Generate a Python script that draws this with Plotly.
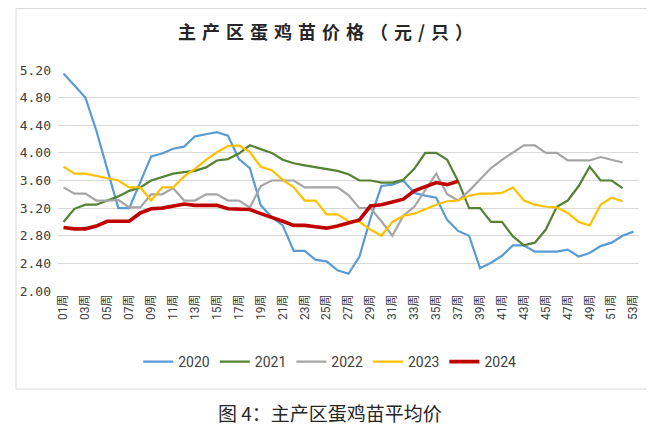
import plotly.graph_objects as go

weeks = [f"{i:02d}周" for i in range(1, 54)]

y2020 = [5.15, 4.98, 4.80, 4.32, 3.75, 3.20, 3.20, 3.57, 3.95, 3.99,
         4.06, 4.09, 4.24, 4.27, 4.30, 4.25, 3.91, 3.78, 3.24, 3.07,
         2.95, 2.58, 2.58, 2.45, 2.43, 2.30, 2.25, 2.50, 3.05, 3.52,
         3.54, 3.60, 3.42, 3.38, 3.35, 3.03, 2.87, 2.80, 2.33, 2.41,
         2.51, 2.66, 2.66, 2.57, 2.57, 2.57, 2.60, 2.50, 2.55, 2.65,
         2.70, 2.80, 2.86]
y2021 = [3.00, 3.19, 3.25, 3.25, 3.31, 3.37, 3.45, 3.50, 3.60, 3.65,
         3.70, 3.72, 3.74, 3.79, 3.89, 3.91, 3.99, 4.11, 4.06, 4.00,
         3.90, 3.85, 3.82, 3.79, 3.77, 3.74, 3.69, 3.60, 3.60, 3.57,
         3.57, 3.61, 3.77, 4.00, 4.00, 3.90, 3.59, 3.20, 3.20, 3.00,
         3.00, 2.79, 2.66, 2.70, 2.89, 3.22, 3.31, 3.52, 3.80, 3.60,
         3.60, 3.49]
y2022 = [3.50, 3.41, 3.41, 3.31, 3.31, 3.32, 3.21, 3.21, 3.40, 3.40,
         3.49, 3.31, 3.31, 3.40, 3.40, 3.31, 3.31, 3.21, 3.52, 3.60,
         3.60, 3.60, 3.50, 3.50, 3.50, 3.50, 3.39, 3.20, 3.20, 3.01,
         2.80, 3.09, 3.22, 3.47, 3.70, 3.40, 3.31, 3.45, 3.62, 3.78,
         3.90, 4.00, 4.11, 4.11, 4.00, 4.00, 3.89, 3.89, 3.89, 3.94,
         3.90, 3.86]
y2023 = [3.80, 3.70, 3.70, 3.67, 3.64, 3.60, 3.50, 3.50, 3.31, 3.50,
         3.50, 3.66, 3.77, 3.90, 4.01, 4.10, 4.11, 4.01, 3.80, 3.75,
         3.61, 3.50, 3.31, 3.31, 3.11, 3.11, 3.01, 3.00, 2.89, 2.80,
         3.00, 3.09, 3.12, 3.19, 3.25, 3.30, 3.31, 3.38, 3.41, 3.41,
         3.42, 3.50, 3.31, 3.25, 3.22, 3.21, 3.13, 3.00, 2.95, 3.25,
         3.35, 3.30]
y2024 = [2.92, 2.90, 2.90, 2.94, 3.01, 3.01, 3.01, 3.13, 3.19, 3.20,
         3.23, 3.26, 3.24, 3.24, 3.24, 3.19, 3.18, 3.18, 3.12, 3.07,
         3.01, 2.95, 2.95, 2.93, 2.91, 2.94, 2.98, 3.03, 3.23, 3.25,
         3.29, 3.33, 3.45, 3.51, 3.57, 3.54, 3.59]

series = [
    ("2020", y2020, "#5b9bd5", 2.2),
    ("2021", y2021, "#548235", 2.2),
    ("2022", y2022, "#a5a5a5", 2.2),
    ("2023", y2023, "#ffc000", 2.2),
    ("2024", y2024, "#c00000", 3.6),
]

yticks = [2.00, 2.40, 2.80, 3.20, 3.60, 4.00, 4.40, 4.80, 5.20]
ytick_text = [f"{v:.2f}" for v in yticks]
xtick_vals = weeks[::2]

title_text = "主产区蛋鸡苗价格（元/只）"
caption_text = "图 4：主产区蛋鸡苗平均价"

fig = go.Figure()
for name, vals, color, w in series:
    fig.add_trace(go.Scatter(
        x=weeks[:len(vals)], y=vals, name=name, mode="lines",
        line=dict(color=color, width=w),
    ))

L, R, T, B = 43, 24, 62, 144
W, H = 655, 427
pw, ph = W - L - R, H - T - B

def px(x):
    return (x - L) / pw

def py(y):
    return (H - B - y) / ph

fig.update_layout(
    width=W, height=H,
    margin=dict(l=L, r=R, t=T, b=B),
    paper_bgcolor="white", plot_bgcolor="white",
    font=dict(family="Noto Sans CJK SC", color="#404040"),
    showlegend=True,
    legend=dict(
        orientation="h", x=px(318), y=py(354), xanchor="center", yanchor="middle",
        font=dict(family="Roboto, Noto Sans CJK SC", size=14, color="#404040"),
        itemwidth=30, tracegroupgap=0,
    ),
    xaxis=dict(
        type="category", categoryorder="array", categoryarray=weeks,
        range=[-0.5, len(weeks) - 0.5],
        tickmode="array", tickvals=xtick_vals, ticktext=xtick_vals,
        tickangle=-90, showgrid=False, showline=False, ticks="",
        tickfont=dict(family="Roboto, Noto Sans CJK SC", size=12, color="#404040"),
        fixedrange=True,
    ),
    yaxis=dict(
        range=[2.0, 5.2], tickmode="array", tickvals=yticks, ticktext=ytick_text,
        showgrid=True, gridcolor="#d9d9d9", gridwidth=1, zeroline=False,
        showline=False, ticks="", ticklabelstandoff=6,
        tickfont=dict(family="DejaVu Sans Mono", size=13, color="#404040"),
        fixedrange=True,
    ),
    shapes=[dict(
        type="rect", xref="paper", yref="paper",
        x0=px(0.5), x1=px(646.5), y0=py(381), y1=py(0.5),
        line=dict(color="#d9d9d9", width=1), layer="below",
    )],
    annotations=[
        dict(text="<b>" + "\u2004".join(title_text) + "</b>", xref="paper", yref="paper",
             x=px(314), y=py(23), xanchor="center", yanchor="middle", showarrow=False,
             font=dict(family="Noto Sans CJK SC", size=18, color="#262626")),
        dict(text=caption_text, xref="paper", yref="paper",
             x=px(318), y=py(404), xanchor="center", yanchor="middle", showarrow=False,
             font=dict(family="Noto Sans CJK SC", size=19, color="#262626")),
    ],
)

fig.write_html("out.html")
